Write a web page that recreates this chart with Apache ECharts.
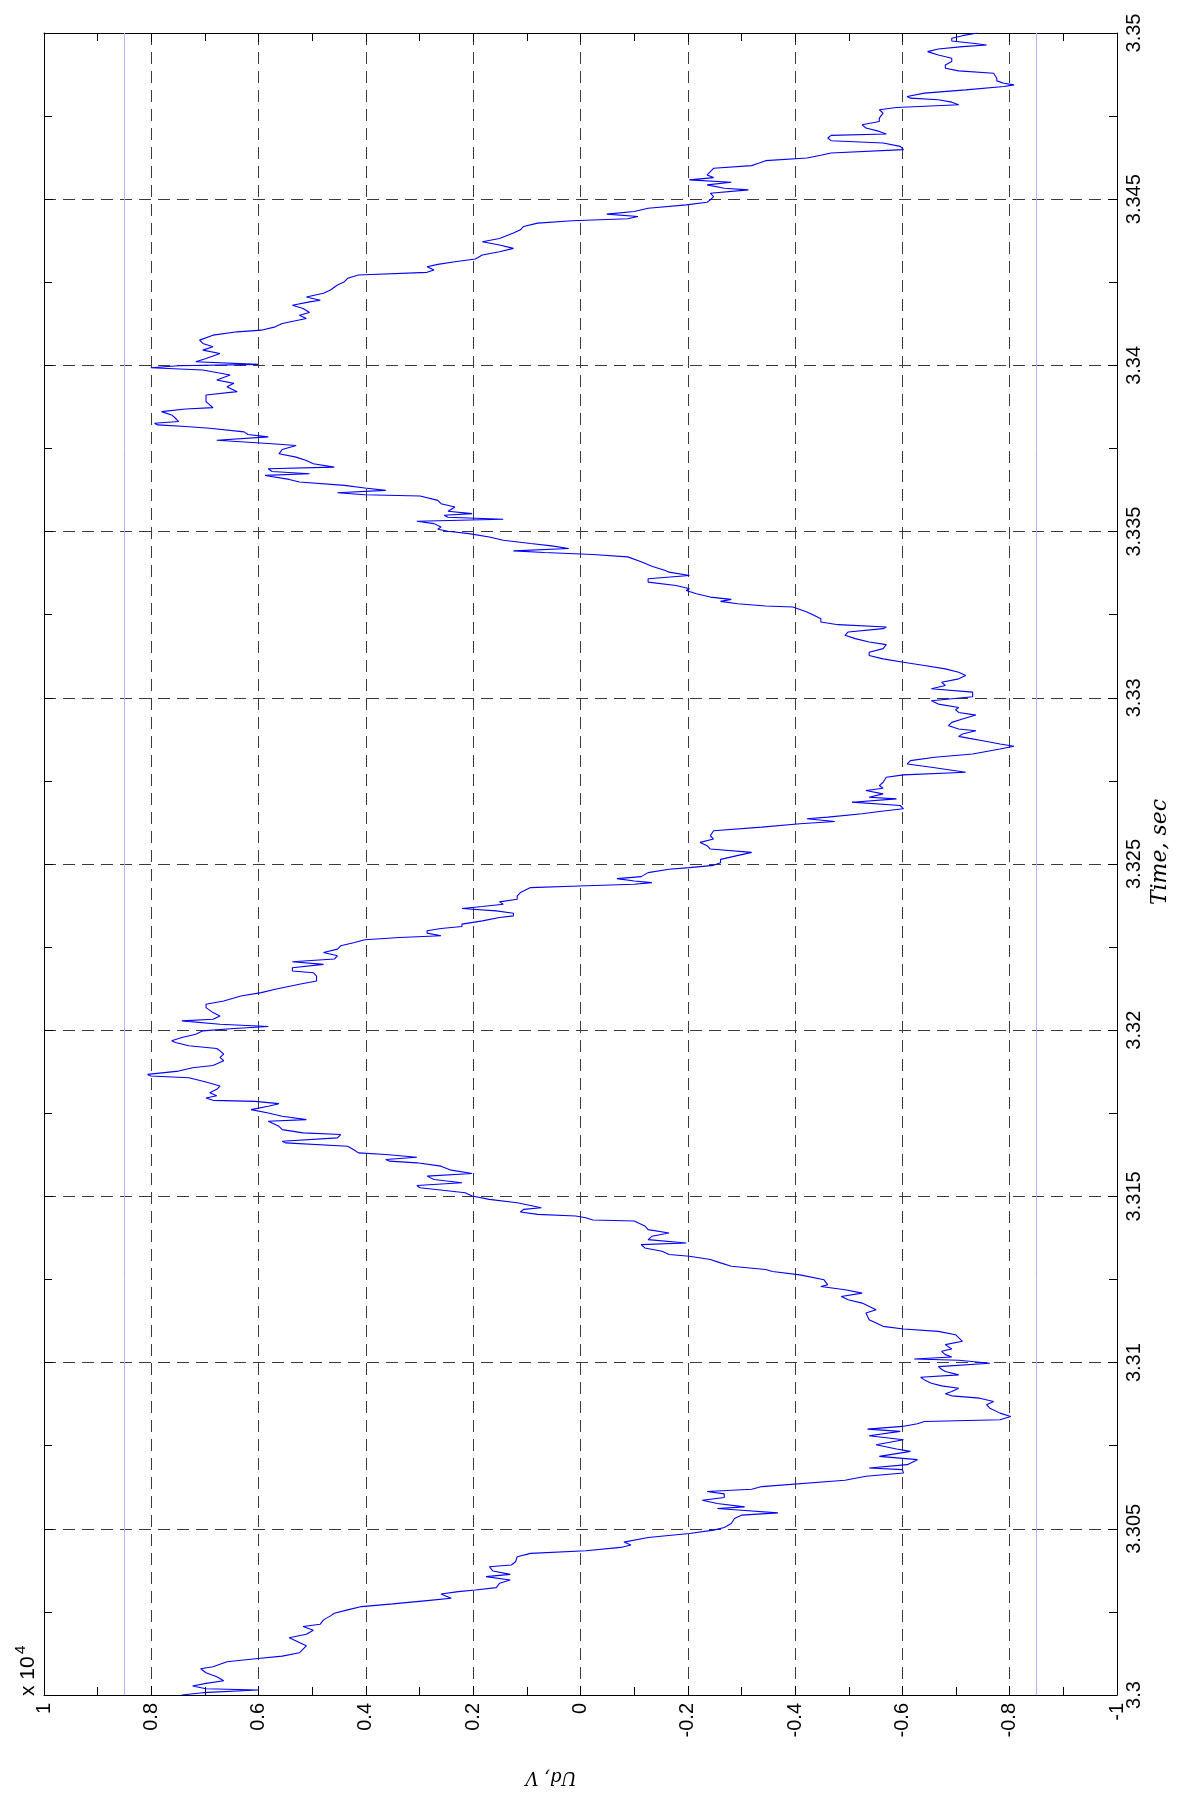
<!DOCTYPE html>
<html>
<head>
<meta charset="utf-8">
<title>Ud, V</title>
<script src="https://cdn.jsdelivr.net/npm/echarts@6/dist/echarts.min.js"></script>
<style>
  html, body { margin: 0; padding: 0; background: #ffffff; }
  #chart { width: 1178px; height: 1794px; }
</style>
</head>
<body>
<div id="chart"></div>
<script>
// Ud trace, [time (s), Ud (x 10^4 V)]
const udTrace = [
  [3.30000,0.743],[3.30007,0.704],[3.30015,0.601],[3.30019,0.698],[3.30027,0.723],[3.30035,0.698],
  [3.30043,0.665],[3.30055,0.678],[3.30067,0.698],[3.30079,0.708],[3.30085,0.685],[3.30100,0.659],
  [3.30110,0.601],[3.30117,0.556],[3.30127,0.524],[3.30148,0.511],[3.30158,0.524],[3.30172,0.543],
  [3.30183,0.511],[3.30195,0.498],[3.30206,0.517],[3.30213,0.485],[3.30226,0.479],[3.30238,0.466],
  [3.30246,0.459],[3.30256,0.434],[3.30266,0.408],[3.30274,0.350],[3.30284,0.286],[3.30291,0.241],
  [3.30304,0.260],[3.30311,0.228],[3.30316,0.196],[3.30323,0.157],[3.30336,0.151],[3.30346,0.131],
  [3.30356,0.176],[3.30363,0.131],[3.30373,0.163],[3.30386,0.170],[3.30391,0.129],[3.30401,0.121],
  [3.30416,0.118],[3.30426,0.093],[3.30434,-0.010],[3.30444,-0.075],[3.30451,-0.094],[3.30460,-0.081],
  [3.30474,-0.126],[3.30486,-0.203],[3.30496,-0.248],[3.30504,-0.268],[3.30516,-0.281],[3.30531,-0.287],
  [3.30541,-0.300],[3.30548,-0.368],[3.30556,-0.300],[3.30561,-0.255],[3.30566,-0.306],[3.30576,-0.255],
  [3.30586,-0.227],[3.30594,-0.268],[3.30605,-0.268],[3.30612,-0.236],[3.30619,-0.319],[3.30627,-0.338],
  [3.30646,-0.493],[3.30658,-0.532],[3.30668,-0.602],[3.30678,-0.600],[3.30683,-0.538],[3.30693,-0.609],
  [3.30708,-0.628],[3.30718,-0.557],[3.30733,-0.615],[3.30740,-0.589],[3.30753,-0.551],[3.30768,-0.602],
  [3.30780,-0.538],[3.30793,-0.596],[3.30800,-0.535],[3.30808,-0.600],[3.30816,-0.628],[3.30823,-0.641],
  [3.30828,-0.782],[3.30838,-0.802],[3.30848,-0.782],[3.30863,-0.763],[3.30873,-0.757],[3.30883,-0.770],
  [3.30893,-0.744],[3.30900,-0.692],[3.30906,-0.680],[3.30913,-0.692],[3.30923,-0.705],[3.30930,-0.673],
  [3.30938,-0.654],[3.30948,-0.641],[3.30956,-0.634],[3.30963,-0.705],[3.30973,-0.680],[3.30980,-0.673],
  [3.30988,-0.667],[3.30998,-0.763],[3.31007,-0.705],[3.31011,-0.622],[3.31017,-0.692],[3.31024,-0.680],
  [3.31034,-0.673],[3.31041,-0.692],[3.31054,-0.680],[3.31064,-0.712],[3.31084,-0.699],[3.31094,-0.667],
  [3.31101,-0.602],[3.31109,-0.564],[3.31119,-0.551],[3.31129,-0.538],[3.31149,-0.532],[3.31159,-0.551],
  [3.31179,-0.525],[3.31189,-0.499],[3.31199,-0.486],[3.31209,-0.525],[3.31219,-0.493],[3.31229,-0.448],
  [3.31234,-0.461],[3.31249,-0.454],[3.31264,-0.409],[3.31274,-0.358],
  [3.31280,-0.345],[3.31290,-0.281],[3.31300,-0.261],[3.31310,-0.242],[3.31320,-0.203],[3.31325,-0.165],
  [3.31335,-0.152],[3.31345,-0.120],[3.31355,-0.113],[3.31360,-0.197],[3.31370,-0.126],[3.31380,-0.133],
  [3.31390,-0.165],[3.31400,-0.126],[3.31411,-0.120],[3.31426,-0.100],[3.31429,-0.023],[3.31436,-0.010],
  [3.31441,0.009],[3.31446,0.080],[3.31453,0.112],[3.31461,0.106],[3.31466,0.073],[3.31481,0.118],
  [3.31491,0.170],[3.31501,0.202],[3.31511,0.215],[3.31526,0.299],[3.31533,0.305],[3.31541,0.221],
  [3.31551,0.273],[3.31561,0.286],[3.31569,0.202],[3.31579,0.241],[3.31591,0.260],[3.31601,0.305],
  [3.31606,0.356],[3.31611,0.363],[3.31618,0.305],[3.31626,0.363],[3.31631,0.414],[3.31639,0.421],
  [3.31651,0.434],[3.31661,0.550],[3.31666,0.556],[3.31676,0.453],[3.31686,0.447],[3.31691,0.517],
  [3.31701,0.556],[3.31711,0.562],[3.31726,0.582],[3.31731,0.511],[3.31741,0.556],[3.31751,0.582],
  [3.31761,0.614],[3.31771,0.582],[3.31779,0.562],[3.31786,0.607],[3.31789,0.685],[3.31796,0.698],
  [3.31803,0.678],[3.31812,0.691],[3.31822,0.678],[3.31832,0.672],[3.31844,0.698],[3.31857,0.730],
  [3.31862,0.801],[3.31867,0.807],[3.31877,0.749],[3.31887,0.723],[3.31894,0.685],
  [3.31908,0.665],[3.31918,0.672],[3.31928,0.665],[3.31938,0.672],[3.31945,0.678],[3.31953,0.730],
  [3.31963,0.755],[3.31968,0.762],[3.31978,0.743],[3.31988,0.717],[3.31998,0.704],[3.32005,0.646],
  [3.32011,0.582],[3.32018,0.672],[3.32028,0.743],[3.32033,0.685],[3.32043,0.672],[3.32053,0.685],
  [3.32068,0.698],[3.32078,0.698],[3.32088,0.665],[3.32103,0.633],[3.32113,0.595],[3.32123,0.569],
  [3.32138,0.524],[3.32148,0.492],[3.32163,0.492],[3.32173,0.498],[3.32178,0.537],[3.32188,0.537],
  [3.32198,0.479],[3.32206,0.537],[3.32214,0.459],[3.32224,0.453],[3.32234,0.479],[3.32244,0.453],
  [3.32254,0.447],[3.32264,0.421],[3.32272,0.402],[3.32279,0.337],[3.32284,0.260],[3.32292,0.286],
  [3.32299,0.286],[3.32306,0.260],[3.32312,0.221],[3.32319,0.221],[3.32329,0.183],[3.32339,0.151],
  [3.32344,0.125],[3.32352,0.125],[3.32359,0.157],[3.32366,0.221],[3.32372,0.183],[3.32379,0.144],
  [3.32386,0.151],[3.32394,0.118],[3.32404,0.118],[3.32414,0.112],[3.32429,0.093],[3.32434,0.003],
  [3.32439,-0.100],[3.32444,-0.133],[3.32449,-0.100],[3.32456,-0.068],[3.32462,-0.113],[3.32474,-0.126],
  [3.32484,-0.165],[3.32489,-0.203],[3.32496,-0.248],[3.32504,-0.261],[3.32514,-0.261],
  [3.32535,-0.319],[3.32545,-0.242],[3.32555,-0.236],[3.32565,-0.223],[3.32575,-0.248],[3.32585,-0.242],
  [3.32600,-0.248],[3.32611,-0.338],[3.32621,-0.409],[3.32628,-0.474],[3.32636,-0.422],[3.32641,-0.461],
  [3.32651,-0.525],[3.32658,-0.557],[3.32666,-0.602],[3.32676,-0.596],[3.32686,-0.506],[3.32696,-0.589],
  [3.32701,-0.538],[3.32711,-0.564],[3.32721,-0.532],[3.32728,-0.564],[3.32736,-0.557],[3.32746,-0.564],
  [3.32761,-0.570],[3.32768,-0.602],[3.32776,-0.718],[3.32781,-0.718],[3.32791,-0.654],[3.32801,-0.609],
  [3.32811,-0.615],[3.32821,-0.660],[3.32831,-0.731],[3.32846,-0.782],[3.32854,-0.808],[3.32861,-0.782],
  [3.32871,-0.750],[3.32878,-0.725],[3.32884,-0.705],[3.32891,-0.712],[3.32901,-0.737],[3.32906,-0.705],
  [3.32916,-0.686],[3.32926,-0.692],[3.32936,-0.712],[3.32948,-0.737],[3.32956,-0.705],[3.32964,-0.699],
  [3.32971,-0.705],[3.32981,-0.667],[3.32991,-0.654],[3.33003,-0.731],[3.33017,-0.731],[3.33027,-0.654],
  [3.33037,-0.680],[3.33047,-0.673],[3.33057,-0.705],[3.33067,-0.718],[3.33077,-0.705],[3.33087,-0.680],
  [3.33097,-0.641],[3.33107,-0.602],[3.33117,-0.564],[3.33127,-0.538],[3.33137,-0.538],
  [3.33148,-0.564],[3.33160,-0.570],[3.33168,-0.538],[3.33178,-0.512],[3.33188,-0.493],[3.33198,-0.499],
  [3.33208,-0.564],[3.33213,-0.570],[3.33220,-0.480],[3.33228,-0.448],[3.33238,-0.448],[3.33248,-0.435],
  [3.33258,-0.422],[3.33273,-0.396],[3.33276,-0.345],[3.33283,-0.293],[3.33290,-0.261],[3.33296,-0.281],
  [3.33303,-0.242],[3.33313,-0.216],[3.33323,-0.197],[3.33328,-0.203],[3.33338,-0.178],[3.33348,-0.126],
  [3.33358,-0.126],[3.33368,-0.203],[3.33378,-0.165],[3.33383,-0.158],[3.33396,-0.133],[3.33409,-0.113],
  [3.33424,-0.088],[3.33431,-0.023],[3.33437,0.067],[3.33442,0.125],[3.33449,0.022],[3.33457,0.054],
  [3.33464,0.093],[3.33474,0.144],[3.33484,0.170],[3.33494,0.208],[3.33501,0.247],[3.33507,0.266],
  [3.33514,0.260],[3.33524,0.273],[3.33531,0.305],[3.33537,0.144],[3.33543,0.247],[3.33549,0.254],
  [3.33554,0.202],[3.33561,0.247],[3.33574,0.234],[3.33584,0.260],[3.33594,0.266],[3.33607,0.299],
  [3.33611,0.402],[3.33617,0.453],[3.33624,0.363],[3.33631,0.402],[3.33639,0.440],[3.33649,0.524],
  [3.33657,0.543],[3.33669,0.588],[3.33674,0.505],[3.33681,0.575],[3.33689,0.582],[3.33694,0.459],
  [3.33704,0.498],[3.33714,0.511],[3.33724,0.530],[3.33734,0.562],[3.33747,0.556],[3.33759,0.530],
  [3.33765,0.582],[3.33775,0.678],[3.33785,0.582],[3.33792,0.620],[3.33800,0.627],[3.33811,0.691],
  [3.33816,0.736],[3.33821,0.788],[3.33826,0.794],[3.33831,0.749],[3.33841,0.755],[3.33851,0.762],
  [3.33861,0.781],[3.33869,0.736],[3.33873,0.685],[3.33881,0.691],[3.33891,0.698],[3.33901,0.698],
  [3.33911,0.698],[3.33921,0.640],[3.33936,0.659],[3.33946,0.646],[3.33956,0.678],[3.33971,0.653],
  [3.33986,0.704],[3.33993,0.801],[3.33999,0.749],[3.34003,0.601],[3.34011,0.717],[3.34021,0.698],
  [3.34036,0.672],[3.34046,0.704],[3.34056,0.685],[3.34066,0.704],[3.34076,0.710],[3.34091,0.685],
  [3.34101,0.640],[3.34106,0.595],[3.34116,0.569],[3.34126,0.556],[3.34141,0.511],[3.34151,0.524],
  [3.34159,0.505],[3.34171,0.517],[3.34181,0.537],[3.34191,0.505],[3.34196,0.485],[3.34206,0.511],
  [3.34217,0.479],[3.34227,0.466],[3.34242,0.453],[3.34252,0.440],[3.34262,0.434],[3.34272,0.414],
  [3.34280,0.286],[3.34287,0.273],[3.34297,0.286],[3.34304,0.266],[3.34312,0.234],[3.34320,0.196],
  [3.34332,0.183],[3.34342,0.151],[3.34352,0.125],[3.34362,0.151],[3.34372,0.183],[3.34382,0.151],
  [3.34398,0.125],[3.34408,0.112],[3.34418,0.106],[3.34428,0.080],[3.34435,0.015],[3.34441,-0.088],
  [3.34448,-0.107],[3.34455,-0.049],[3.34463,-0.100],[3.34473,-0.126],[3.34483,-0.197],[3.34491,-0.236],
  [3.34498,-0.242],[3.34508,-0.248],[3.34518,-0.242],[3.34528,-0.313],[3.34533,-0.268],[3.34543,-0.236],
  [3.34551,-0.281],[3.34558,-0.203],[3.34565,-0.248],[3.34573,-0.236],[3.34583,-0.242],[3.34593,-0.248],
  [3.34601,-0.319],[3.34608,-0.332],[3.34616,-0.345],[3.34624,-0.422],[3.34632,-0.448],[3.34639,-0.467],
  [3.34649,-0.602],[3.34659,-0.596],[3.34669,-0.564],[3.34676,-0.467],[3.34684,-0.461],[3.34692,-0.467],
  [3.34696,-0.570],[3.34704,-0.557],[3.34714,-0.532],[3.34724,-0.525],[3.34734,-0.557],[3.34744,-0.557],
  [3.34759,-0.564],[3.34769,-0.557],[3.34776,-0.589],[3.34784,-0.705],[3.34792,-0.692],[3.34799,-0.667],
  [3.34804,-0.615],[3.34809,-0.609],[3.34819,-0.641],[3.34829,-0.718],[3.34839,-0.789],[3.34844,-0.808],
  [3.34849,-0.789],[3.34856,-0.776],[3.34864,-0.776],[3.34879,-0.770],[3.34886,-0.705],[3.34894,-0.680],
  [3.34904,-0.680],[3.34914,-0.692],[3.34924,-0.692],[3.34934,-0.667],[3.34944,-0.647],[3.34952,-0.667],
  [3.34959,-0.712],[3.34964,-0.757],[3.34969,-0.731],[3.34976,-0.692],[3.34984,-0.692],[3.34992,-0.712],
  [3.35000,-0.740]
];

// limit levels (x 10^4 V)
const udLimits = [0.85, -0.85];

// tick labels
const udTickValues = [-1, -0.8, -0.6, -0.4, -0.2, 0, 0.2, 0.4, 0.6, 0.8, 1];
const udTickLabels = ['-1', '-0.8', '-0.6', '-0.4', '-0.2', '0', '0.2', '0.4', '0.6', '0.8', '1'];
const timeTickValues = [3.3, 3.305, 3.31, 3.315, 3.32, 3.325, 3.33, 3.335, 3.34, 3.345, 3.35];
const timeTickLabels = ['3.3', '3.305', '3.31', '3.315', '3.32', '3.325', '3.33', '3.335', '3.34', '3.345', '3.35'];

const timeMin = 3.3, timeMax = 3.35;

function lookup(values, labels) {
  return function (v) {
    const i = values.findIndex(function (x) { return Math.abs(x - v) < 1e-7; });
    return i >= 0 ? labels[i] : '';
  };
}

const labelFont = { fontFamily: 'Liberation Sans, Arial, sans-serif', fontSize: 20, color: '#000' };
const boxLine = { show: true, onZero: false, lineStyle: { color: '#000', width: 1 } };
const tickIn = { show: true, inside: true, length: 9, lineStyle: { color: '#000', width: 1 } };
const minorIn = { show: true, splitNumber: 2, length: 8, lineStyle: { color: '#000', width: 1 } };
const gridDash = { show: true, lineStyle: { color: '#3a3a3a', width: 1, type: [12, 7] } };

const udAxisBase = { type: 'value', min: -1, max: 1, interval: 0.2, inverse: true };
const timeAxisBase = { type: 'value', min: timeMin, max: timeMax, interval: 0.005 };

const chart = echarts.init(document.getElementById('chart'), null, { renderer: 'canvas' });

chart.setOption({
  backgroundColor: '#ffffff',
  animation: false,
  grid: { left: 44, right: 61, top: 33, bottom: 99, containLabel: false },
  xAxis: [
    Object.assign({}, udAxisBase, {
      position: 'bottom',
      axisLine: boxLine,
      axisTick: tickIn,
      minorTick: minorIn,
      splitLine: gridDash,
      axisLabel: Object.assign({ show: true, rotate: 90, margin: 8, formatter: lookup(udTickValues, udTickLabels) }, labelFont)
    }),
    Object.assign({}, udAxisBase, {
      position: 'top',
      axisLine: boxLine,
      axisTick: tickIn,
      minorTick: minorIn,
      splitLine: { show: false },
      axisLabel: { show: false }
    })
  ],
  yAxis: [
    Object.assign({}, timeAxisBase, {
      position: 'right',
      axisLine: boxLine,
      axisTick: tickIn,
      minorTick: minorIn,
      splitLine: gridDash,
      axisLabel: Object.assign({ show: true, rotate: 90, margin: 7, formatter: lookup(timeTickValues, timeTickLabels) }, labelFont)
    }),
    Object.assign({}, timeAxisBase, {
      position: 'left',
      axisLine: boxLine,
      axisTick: tickIn,
      minorTick: minorIn,
      splitLine: { show: false },
      axisLabel: { show: false }
    })
  ],
  series: udLimits.map(function (lvl) {
    return {
      type: 'line',
      xAxisIndex: 0,
      yAxisIndex: 0,
      showSymbol: false,
      silent: true,
      lineStyle: { color: '#c9a6f7', width: 1 },
      data: [[lvl, timeMin], [lvl, timeMax]]
    };
  }).concat([{
    name: 'Ud',
    type: 'line',
    xAxisIndex: 0,
    yAxisIndex: 0,
    showSymbol: false,
    symbol: 'none',
    lineStyle: { color: '#0000ff', width: 1.1 },
    data: udTrace.map(function (p) { return [p[1], p[0]]; })
  }]),
  graphic: [
    {
      type: 'text', x: 28, y: 1696, rotation: Math.PI / 2,
      style: { text: 'x 10', fontFamily: 'Liberation Sans, Arial, sans-serif', fontSize: 21, fill: '#000',
               textAlign: 'left', textVerticalAlign: 'middle' }
    },
    {
      type: 'text', x: 21, y: 1654, rotation: Math.PI / 2,
      style: { text: '4', fontFamily: 'Liberation Sans, Arial, sans-serif', fontSize: 15, fill: '#000',
               textAlign: 'left', textVerticalAlign: 'middle' }
    },
    {
      type: 'text', x: 551, y: 1777, rotation: Math.PI,
      style: { text: 'Ud, V', fontFamily: 'DejaVu Serif, serif', fontStyle: 'italic', fontSize: 18, fill: '#000',
               textAlign: 'center', textVerticalAlign: 'middle' }
    },
    {
      type: 'text', x: 1160, y: 852, rotation: Math.PI / 2,
      style: { text: 'Time, sec', fontFamily: 'DejaVu Serif, serif', fontStyle: 'italic', fontSize: 22, fill: '#000',
               textAlign: 'center', textVerticalAlign: 'middle' }
    }
  ]
});
</script>
</body>
</html>
